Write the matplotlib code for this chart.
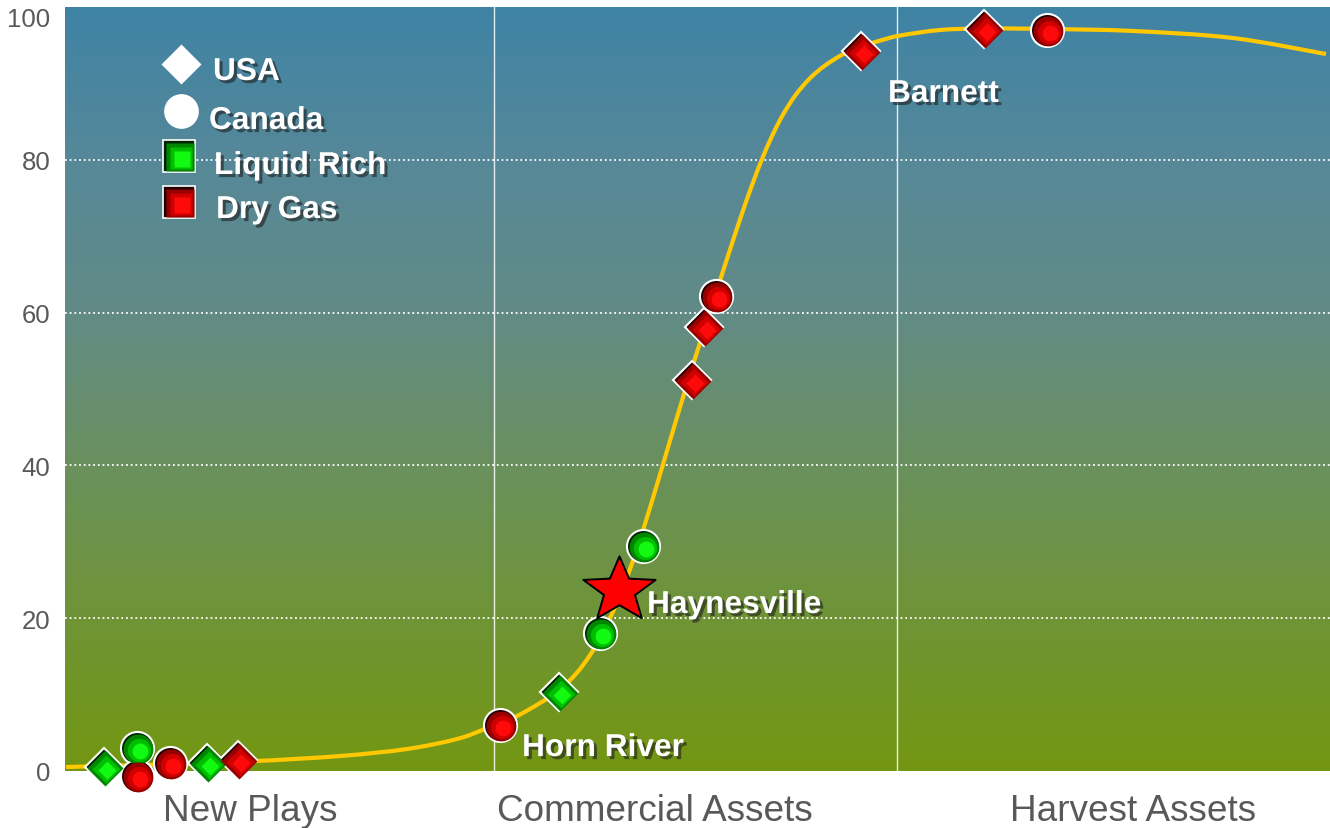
import numpy as np
import matplotlib.pyplot as plt
import matplotlib.patheffects as pe
from matplotlib.colors import LinearSegmentedColormap
from matplotlib.path import Path
from matplotlib.patches import PathPatch
from matplotlib.transforms import offset_copy, blended_transform_factory

plt.rcParams['font.family'] = ['Liberation Sans', 'DejaVu Sans']

# ── Maturity curve (stage position vs. % developed) ─────────────────────────
curve_x = [0.08, 4.35, 9.09, 15.18, 21.74, 27.04, 30.99, 33.20, 35.57, 37.55,
           39.05, 40.47, 41.50, 42.37, 43.48, 44.51, 45.45, 46.40, 47.27, 49.01,
           50.20, 51.38, 52.33, 53.36, 54.31, 55.10, 55.89, 56.76, 57.79, 58.89,
           60.08, 61.50, 62.92, 64.43, 66.01, 69.17, 72.65, 77.71, 84.43, 92.33,
           99.68]
curve_y = [0.52, 0.72, 0.92, 1.31, 1.96, 2.88, 4.19, 5.50, 7.07, 8.90,
           10.52, 12.87, 15.17, 17.62, 21.47, 25.72, 30.27, 35.30, 40.13, 49.78,
           56.06, 62.15, 67.02, 72.21, 76.69, 80.09, 83.10, 85.92, 88.56, 90.67,
           92.34, 93.81, 94.80, 95.60, 96.26, 96.99, 97.19, 97.12, 96.86, 95.94,
           93.85]

# ── Plays ───────────────────────────────────────────────────────────────────
usa_liquid_x = [3.08, 11.23, 39.05]
usa_liquid_y = [0.52, 1.05, 10.34]
usa_dry_x = [13.68, 49.57, 50.51, 62.92, 72.65]
usa_dry_y = [1.44, 51.18, 58.12, 94.24, 97.12]
can_liquid_x = [5.69, 42.29, 45.69]
can_liquid_y = [3.01, 18.06, 29.45]
can_dry_x = [5.69, 8.30, 34.39, 51.46, 77.63]
can_dry_y = [-0.65, 1.05, 6.02, 62.17, 96.99]
focus_x, focus_y = 43.79, 23.69   # Haynesville

stage_names = ["New Plays", "Commercial Assets", "Harvest Assets"]
stage_label_x = [14.62, 46.64, 84.43]
stage_bounds = [33.91, 65.77]
y_ticks = [0, 20, 40, 60, 80, 100]

RED = ('#240000', '#980000', '#d00000', '#ff0a0a')
GREEN = ('#002400', '#008600', '#00be00', '#12fa12')

fig = plt.figure(figsize=(13.3, 8.29), dpi=100)
ax = fig.add_axes([65 / 1330, 57 / 829, 1265 / 1330, 764 / 829])
ax.set_xlim(0, 100)
ax.set_ylim(0, 100)

# background gradient, blue at the top fading to olive at the bottom
bg = LinearSegmentedColormap.from_list(
    'bg', [(0.0, '#739712'), (0.2, '#6f9436'), (0.4, '#6a905e'),
           (0.6, '#628b86'), (0.8, '#568898'), (1.0, '#3f83a5')])
grad = np.linspace(0, 1, 256).reshape(-1, 1)
ax.imshow(grad, cmap=bg, origin='lower', extent=[0, 100, 0, 100],
          aspect='auto', zorder=0)

for yv in y_ticks[1:-1]:
    ax.axhline(yv, color='white', lw=1.3, ls=(0, (1, 1.6)), zorder=1)
for xv in stage_bounds:
    ax.axvline(xv, color='white', lw=1.0, alpha=0.85, zorder=1)


def smooth_path(xs, ys):
    """Catmull-Rom style smoothed line through the points, as Bezier pieces."""
    p = np.column_stack([xs, ys])
    ext = np.vstack([p[0], p, p[-1]])
    verts, codes = [p[0]], [Path.MOVETO]
    for i in range(len(p) - 1):
        p0, p1, p2, p3 = ext[i], ext[i + 1], ext[i + 2], ext[i + 3]
        verts += [p1 + (p2 - p0) / 6, p2 - (p3 - p1) / 6, p2]
        codes += [Path.CURVE4] * 3
    return Path(verts, codes)


ax.add_patch(PathPatch(smooth_path(curve_x, curve_y), fill=False,
                       edgecolor='#ffc800', lw=3, zorder=3))


def shaded(x, y, marker, size, cols, trans=None, edge=1.5, z=5):
    """Marker with a stepped highlight towards the lower right."""
    base = trans if trans is not None else ax.transData
    ax.plot(x, y, ls='none', marker=marker, ms=size, mfc=cols[0],
            mec='white', mew=edge, transform=base, zorder=z, clip_on=False)
    layers = [(0.9, 0.035), (0.7, 0.07), (0.48, 0.1)]
    for k, (f, d) in enumerate(layers):
        t = offset_copy(base, fig=fig, x=size * d, y=-size * d,
                        units='points')
        ax.plot(x, y, ls='none', marker=marker, ms=size * f, mfc=cols[k + 1],
                mec='none', transform=t, zorder=z + 0.1 * (k + 1),
                clip_on=False)


shaded(usa_liquid_x, usa_liquid_y, 'D', 19.8, GREEN)
shaded(usa_dry_x, usa_dry_y, 'D', 19.8, RED)
shaded(can_liquid_x, can_liquid_y, 'o', 23.8, GREEN)
shaded(can_dry_x, can_dry_y, 'o', 23.8, RED)

# slightly squat five-point star for the highlighted play
ang = np.deg2rad(90 + np.arange(10) * 36)
rad = np.where(np.arange(10) % 2 == 0, 1.0, 0.43)
star_v = np.column_stack([rad * np.cos(ang), 0.9 * rad * np.sin(ang)])
star_v = np.vstack([star_v, star_v[:1]])
star = Path(star_v, [Path.MOVETO] + [Path.LINETO] * 9 + [Path.CLOSEPOLY])
ax.plot(focus_x, focus_y, ls='none', marker=star, ms=52, mfc='#ff0000',
        mec='black', mew=1.4, zorder=9)

shadow = [pe.withSimplePatchShadow(offset=(2.2, -2.2),
                                   shadow_rgbFace='#1e1e1e', alpha=0.6)]
bold = dict(color='white', fontsize=22.8, fontweight='bold',
            va='baseline', ha='left', path_effects=shadow, zorder=10)

# ── Legend ──────────────────────────────────────────────────────────────────
tA = ax.transAxes
ax.plot(0.0917, 0.9254, marker='D', ms=20.4, mfc='white', mec='none',
        transform=tA, zorder=8)
ax.plot(0.0917, 0.8639, marker='o', ms=25, mfc='white', mec='none',
        transform=tA, zorder=8)
shaded([0.0901], [0.805], 's', 23, GREEN, trans=tA, edge=1.2, z=8)
shaded([0.0901], [0.7448], 's', 23, RED, trans=tA, edge=1.2, z=8)
ax.text(0.117, 0.9045, "USA", transform=tA, **bold)
ax.text(0.1138, 0.8403, "Canada", transform=tA, **bold)
ax.text(0.1178, 0.7814, "Liquid Rich", transform=tA, **bold)
ax.text(0.1194, 0.7238, "Dry Gas", transform=tA, **bold)

# ── Play labels ─────────────────────────────────────────────────────────────
ax.text(0.3613, 0.0196, "Horn River", transform=tA, **bold)
ax.text(0.4601, 0.2068, "Haynesville", transform=tA, **bold)
ax.text(0.6506, 0.8757, "Barnett", transform=tA, **bold)

# ── Axes ────────────────────────────────────────────────────────────────────
for s in ax.spines.values():
    s.set_visible(False)
ax.set_xticks([])
ax.set_yticks(y_ticks)
ax.set_yticklabels([str(v) for v in y_ticks])
ax.tick_params(axis='y', length=0, pad=10.5, labelsize=18.5,
               labelcolor='#595959')
ax.get_yticklabels()[-1].set_va('top')

stage_tr = blended_transform_factory(ax.transData, ax.transAxes)
for name, xv in zip(stage_names, stage_label_x):
    ax.text(xv, -0.0642, name, transform=stage_tr, ha='center',
            va='baseline', fontsize=26.6, color='#595959')

fig.savefig('out.png', dpi=100)
